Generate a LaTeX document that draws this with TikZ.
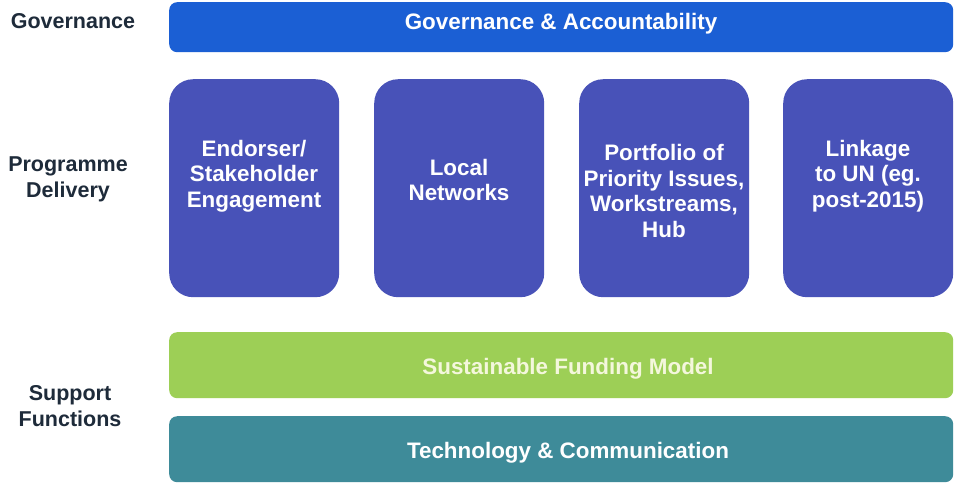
\documentclass[tikz,border=0pt]{standalone}
\usepackage{fontspec}
\setmainfont{Liberation Sans}
\definecolor{govblue}{HTML}{1B5FD4}
\definecolor{boxblue}{HTML}{4852B8}
\definecolor{fundgreen}{HTML}{9DCF56}
\definecolor{techteal}{HTML}{3E8B99}
\definecolor{labeldark}{HTML}{1E2B3A}
\definecolor{fundtext}{HTML}{F4F7DC}
\begin{document}
\begin{tikzpicture}[x=1pt,y=-1pt,
  bar/.style={rounded corners=8pt, inner sep=0pt, minimum width=784pt, minimum height=#1, anchor=north west},
  pillar/.style={rounded corners=24pt, fill=boxblue, inner sep=0pt, minimum width=170pt, minimum height=218pt, anchor=north west},
  txt/.style={font=\bfseries\fontsize{22.4}{25.5}\selectfont, align=center, inner sep=0pt},
  side/.style={font=\bfseries\fontsize{21.5}{26}\selectfont, align=center, text=labeldark, inner sep=0pt}]
\useasboundingbox (0,0) rectangle (955,483);
\fill[white] (0,0) rectangle (955,483);
% Governance bar
\node[bar=50pt, fill=govblue] (gov) at (169,2) {};
\node[txt, text=white] (govt) at (561,24) {Governance \& Accountability};
% pillars
\node[pillar] (p1) at (169,79) {};
\node[pillar] (p2) at (374,79) {};
\node[pillar] (p3) at (579,79) {};
\node[pillar] (p4) at (783,79) {};
\node[txt, text=white] (t1) at (254,176) {Endorser/\\Stakeholder\\Engagement};
\node[txt, text=white] (t2) at (459,180) {Local\\Networks};
\node[txt, text=white] (t3) at (664,191) {Portfolio of\\Priority Issues,\\Workstreams,\\Hub};
\node[txt, text=white] (t4) at (868,176) {Linkage\\to UN (eg.\\post-2015)};
% support bars
\node[bar=66pt, fill=fundgreen] (fund) at (169,332) {};
\node[txt, text=fundtext] (fundt) at (568,369) {Sustainable Funding Model};
\node[bar=66pt, fill=techteal] (tech) at (169,416) {};
\node[txt, text=white] (techt) at (568,453) {Technology \& Communication};
% side labels
\node[side] (lgov) at (73,21) {Governance};
\node[side] (lprog) at (68,179) {Programme\\Delivery};
\node[side] (lsup) at (70,406) {Support\\Functions};
\end{tikzpicture}
\end{document}
